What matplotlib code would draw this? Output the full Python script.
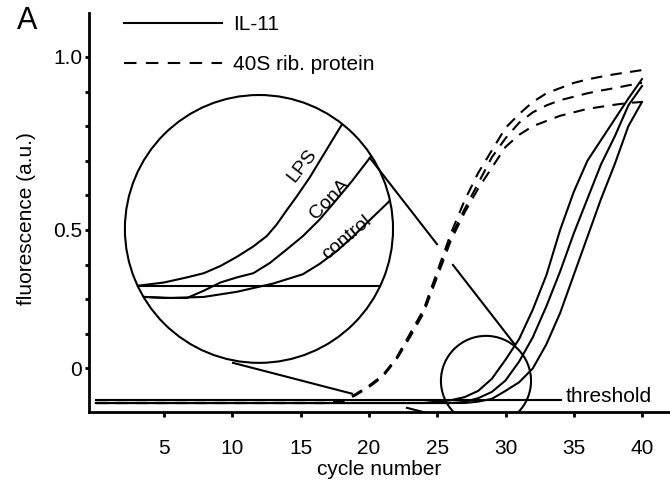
import matplotlib
matplotlib.use("Agg")
import matplotlib.pyplot as plt
from matplotlib.lines import Line2D
from matplotlib.patches import Circle, Ellipse

plt.rcParams['font.family'] = ['Liberation Sans', 'DejaVu Sans']
plt.rcParams['font.size'] = 15

# ---- data ---------------------------------------------------------------
cycles = list(range(0, 41))

# IL-11 (solid)
il11_lps = [0.0] * 25 + [0.004, 0.008, 0.017, 0.035, 0.07, 0.125, 0.185, 0.27,
                         0.37, 0.50, 0.61, 0.70, 0.76, 0.82, 0.88, 0.936]
il11_cona = [0.0] * 27 + [0.003, 0.014, 0.032, 0.065, 0.12, 0.19, 0.28, 0.38,
                          0.49, 0.59, 0.69, 0.77, 0.86, 0.916]
il11_control = [0.0] * 28 + [0.004, 0.012, 0.035, 0.06, 0.10, 0.17, 0.26, 0.37,
                             0.48, 0.59, 0.69, 0.80, 0.87]

# 40S ribosomal protein (dashed)
rib_1 = [0.0] * 18 + [0.005, 0.025, 0.05, 0.08, 0.13, 0.2, 0.27, 0.38, 0.49, 0.585,
                      0.665, 0.73, 0.795, 0.835, 0.87, 0.895, 0.91, 0.925, 0.935,
                      0.943, 0.95, 0.956, 0.962]
rib_2 = [0.0] * 18 + [0.005, 0.024, 0.048, 0.078, 0.127, 0.195, 0.265, 0.37, 0.48,
                      0.56, 0.635, 0.71, 0.765, 0.81, 0.84, 0.86, 0.875, 0.885,
                      0.895, 0.903, 0.91, 0.918, 0.925]
rib_3 = [0.0] * 18 + [0.004, 0.022, 0.046, 0.076, 0.125, 0.19, 0.26, 0.365, 0.47,
                      0.55, 0.62, 0.68, 0.74, 0.775, 0.80, 0.815, 0.83, 0.84,
                      0.85, 0.856, 0.862, 0.867, 0.87]

thresh_x = [0, 34.1]
thresh_v = 0.009

# magnified curves (same units as the main plot)
inset_lps_x = [25.0, 25.62, 26.23, 26.80, 27.21, 27.62, 28.03, 28.43, 28.76,
               29.00, 29.25, 29.49, 29.82, 30.22, 30.59, 30.8]
inset_lps_v = [0.009, 0.009, 0.012, 0.017, 0.021, 0.028, 0.037, 0.047, 0.057,
               0.068, 0.082, 0.095, 0.114, 0.140, 0.164, 0.178]
inset_cona_x = [25.0, 25.75, 26.23, 26.80, 27.21, 27.62, 28.03, 28.43, 28.84,
                29.25, 29.65, 30.06, 30.47, 30.87, 31.28, 31.5]
inset_cona_v = [-0.001, -0.002, -0.003, -0.003, 0.004, 0.012, 0.017, 0.021, 0.031,
                0.044, 0.057, 0.073, 0.092, 0.111, 0.132, 0.143]
inset_control_x = [25.0, 25.75, 26.40, 27.21, 28.03, 28.92, 29.65, 30.06, 30.47,
                   30.87, 31.28, 31.73, 31.95]
inset_control_v = [-0.001, -0.002, -0.003, -0.002, 0.003, 0.011, 0.020, 0.030,
                   0.042, 0.056, 0.072, 0.089, 0.098]

inset_labels = ['LPS', 'ConA', 'control']

xticks = [5, 10, 15, 20, 25, 30, 35, 40]
yticks = [0.1, 0.5, 1.0]
yticklabels = ['0', '0.5', '1.0']
yminor = [0.2, 0.3, 0.4, 0.6, 0.7, 0.8, 0.9]

# zoom region (small circle) and magnified view (big circle), data units
zoom_center = (28.57, 0.064)
zoom_size = (6.6, 0.26)
inset_box = [2.12, 0.116, 19.64, 0.774]

# connector lines (with gaps where they cross the curves)
link_upper = [[(20.07, 0.708), (24.98, 0.459)], [(26.15, 0.399), (30.70, 0.168)]]
link_lower = [[(10.04, 0.116), (18.75, 0.027)], [(22.78, -0.014), (26.81, -0.055)]]

# ---- figure ---------------------------------------------------------------
fig = plt.figure(figsize=(6.7, 4.87), dpi=100)
ax = fig.add_axes([89 / 670, 1 - 412 / 487, (670 - 89) / 670, (412 - 13) / 487])
ax.set_xlim(-0.51, 42.05)
ax.set_ylim(-0.026, 1.127)

lw = 1.5
dash = (0, (5.5, 4))
for v in (rib_1, rib_2, rib_3):
    ax.plot(cycles, v, color='k', lw=lw, ls=dash)
for v in (il11_lps, il11_cona, il11_control):
    ax.plot(cycles, v, color='k', lw=lw)
ax.plot(thresh_x, [thresh_v, thresh_v], color='k', lw=lw)
ax.text(34.4, 0.02, 'threshold', va='center', ha='left')

ax.add_patch(Ellipse(zoom_center, zoom_size[0], zoom_size[1], fill=False,
                     ec='k', lw=lw))
for seg in link_upper + link_lower:
    ax.plot([seg[0][0], seg[1][0]], [seg[0][1], seg[1][1]], color='k', lw=lw)

# magnified inset
ins = ax.inset_axes(inset_box, transform=ax.transData)
ins.set_xlim(zoom_center[0] - zoom_size[0] / 2, zoom_center[0] + zoom_size[0] / 2)
ins.set_ylim(zoom_center[1] - zoom_size[1] / 2, zoom_center[1] + zoom_size[1] / 2)
ins.axis('off')
clip = Circle((0.5, 0.5), 0.5, transform=ins.transAxes)
for xs, vs in ((inset_lps_x, inset_lps_v), (inset_cona_x, inset_cona_v),
               (inset_control_x, inset_control_v)):
    ln, = ins.plot(xs, vs, color='k', lw=lw)
    ln.set_clip_path(clip)
ln, = ins.plot(thresh_x, [thresh_v, thresh_v], color='k', lw=lw)
ln.set_clip_path(clip)
ins.add_patch(Circle((0.5, 0.5), 0.5, transform=ins.transAxes, fill=False,
                     ec='k', lw=lw, clip_on=False))
for lab, (x, y, rot) in zip(inset_labels, [(0.662, 0.735, 52), (0.765, 0.612, 46),
                                          (0.828, 0.468, 40)]):
    ins.text(x, y, lab, rotation=rot, rotation_mode='anchor', ha='center',
             va='center', transform=ins.transAxes, fontsize=14)

# axes styling
for s in ('top', 'right'):
    ax.spines[s].set_visible(False)
for s in ('left', 'bottom'):
    ax.spines[s].set_linewidth(2)
ax.set_xticks(xticks)
ax.set_yticks(yticks)
ax.set_yticklabels(yticklabels)
ax.set_yticks(yminor, minor=True)
ax.tick_params(axis='x', direction='out', length=3.5, width=2, pad=16)
ax.tick_params(axis='y', which='both', direction='out', length=3, width=2, pad=2)

ax.set_xlabel('cycle number')
ax.xaxis.label.set_va('center')
ax.xaxis.set_label_coords(0.5, -0.145)
ax.set_ylabel('fluorescence (a.u.)')
ax.yaxis.label.set_va('center')
ax.yaxis.set_label_coords(-0.108, 0.486)

handles = [Line2D([], [], color='k', lw=lw),
           Line2D([], [], color='k', lw=lw, ls=(0, (6, 4.5)))]
ax.legend(handles, ['IL-11', '40S rib. protein'], loc='upper left',
          bbox_to_anchor=(124 / 670, 1 - 15 / 487), bbox_transform=fig.transFigure,
          frameon=False, borderpad=0, borderaxespad=0, handlelength=4.7,
          handletextpad=0.55, labelspacing=1.0)

fig.text(17 / 670, 1 - 21 / 487, 'A', fontsize=22, va='center', ha='left')

fig.savefig('out.png', dpi=100)
